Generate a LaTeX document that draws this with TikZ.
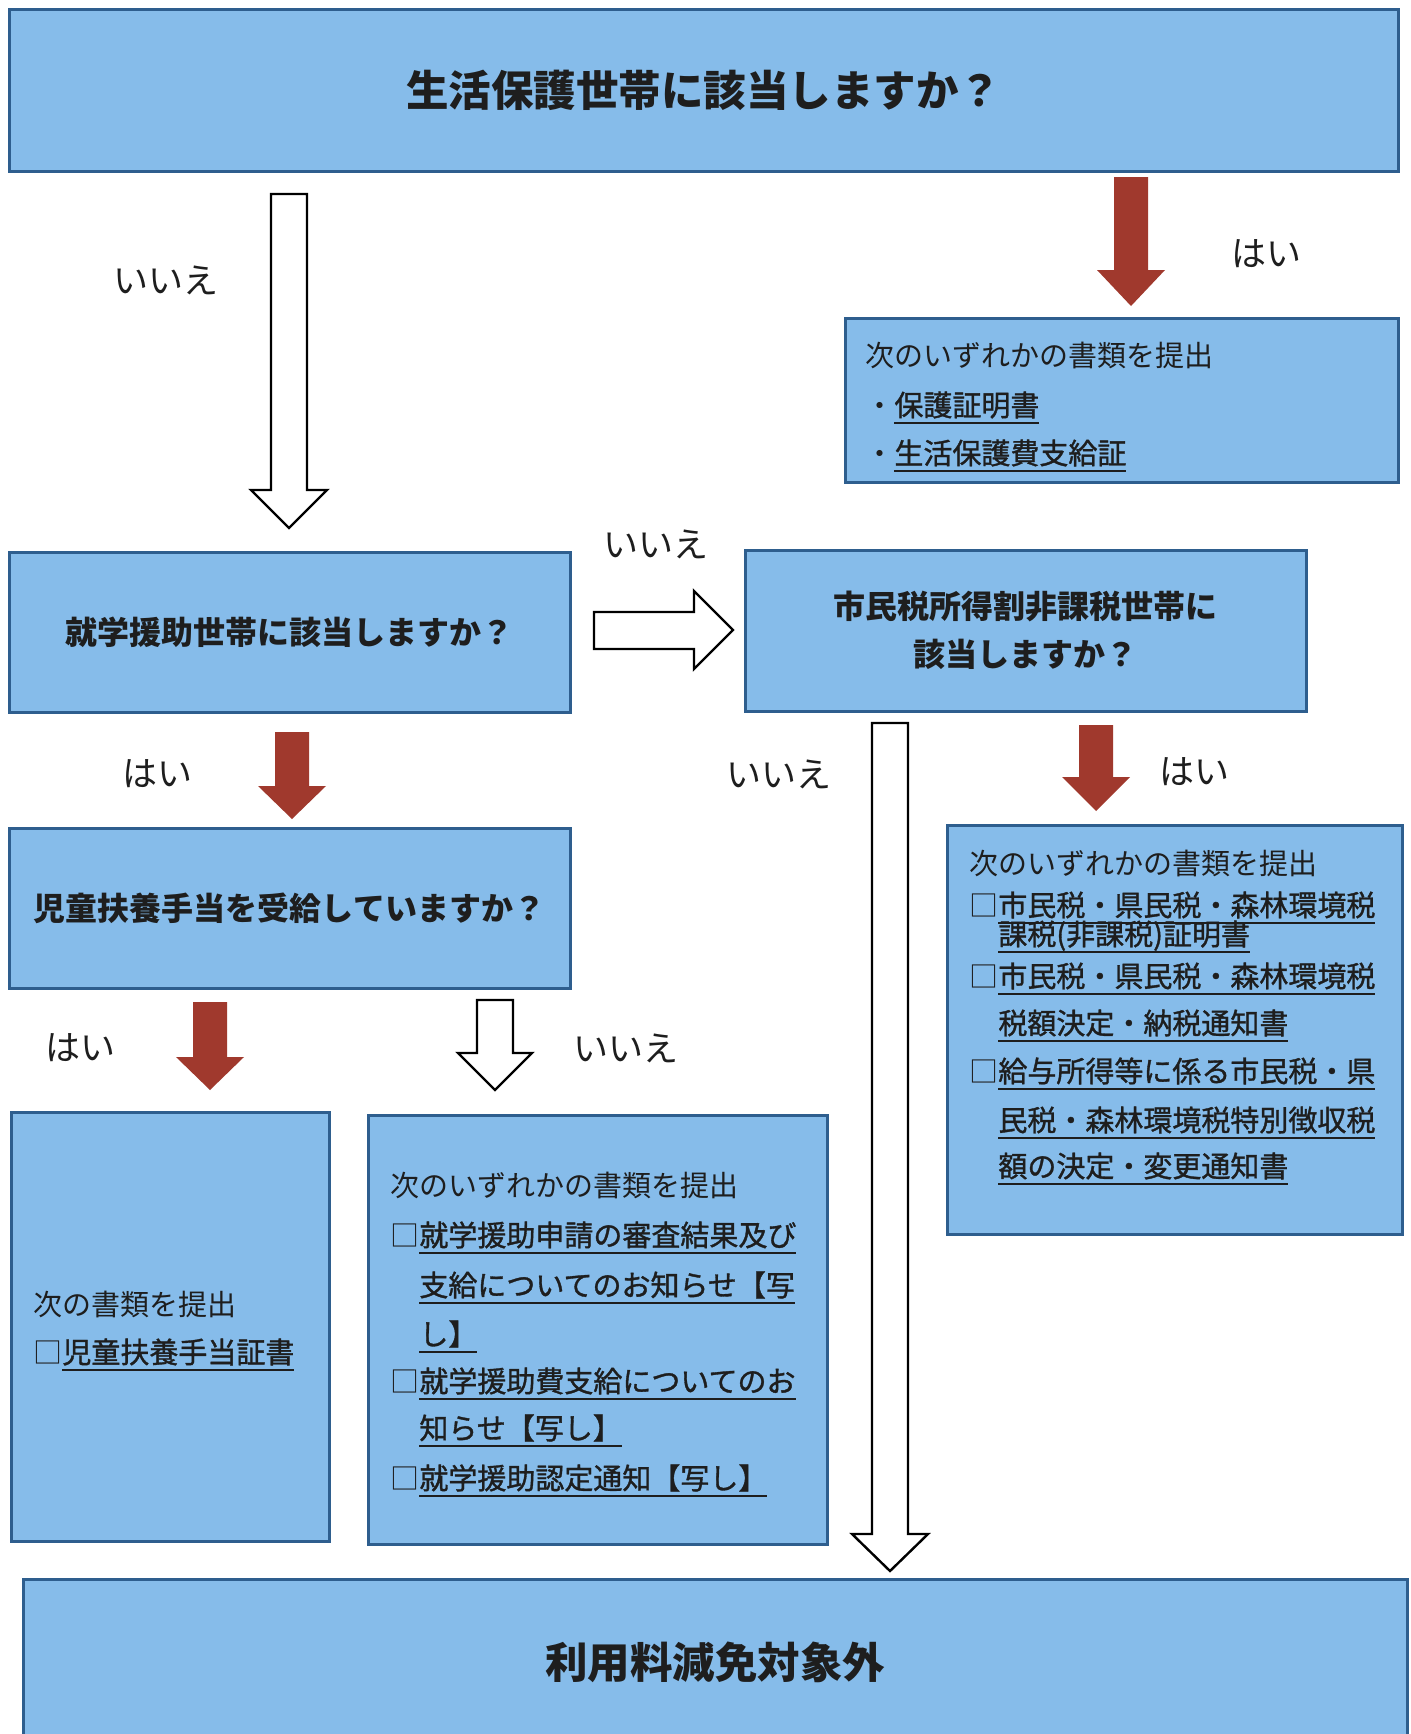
\documentclass[tikz,border=0pt]{standalone}
\usepackage{fontspec}
\setmainfont{Noto Sans CJK JP}
\newfontfamily\myulfont{Noto Sans CJK JP}[FakeBold=1.2]
\newsavebox\myulbox
\newcommand\myul[1]{\sbox\myulbox{\myulfont #1}\rlap{\usebox\myulbox}\rule[-3.9pt]{\wd\myulbox}{1pt}}
\definecolor{boxfill}{HTML}{86BCEA}
\definecolor{boxline}{HTML}{2E5E8E}
\definecolor{arrowred}{HTML}{A0392D}
\definecolor{txt}{HTML}{1E1E1E}
\newcommand\myDArrow[7]{% style, cx, shaft half, top, head start, tip, head half
  \path[#1] ({#2-#3},#4) -- ({#2+#3},#4) -- ({#2+#3},#5) -- ({#2+#7},#5) -- (#2,#6) -- ({#2-#7},#5) -- ({#2-#3},#5) -- cycle;}
\begin{document}
\begin{tikzpicture}[x=0.5pt,y=-0.5pt,
  box/.style={draw=boxline, line width=1.5pt, fill=boxfill, inner sep=0pt, outer sep=0pt, text=txt, align=center},
  redarrow/.style={fill=arrowred, draw=none},
  whitearrow/.style={fill=white, draw=black, line width=1.2pt, line join=miter},
  lbl/.style={font=\fontsize{17.5}{20}\selectfont, text=txt, inner sep=0pt},
  bodytxt/.style={font=\fontsize{14.5}{17}\selectfont, text=txt, inner sep=0pt, anchor=base west},
  bighead/.style={font=\fontsize{21.25}{26}\selectfont\bfseries},
  midhead/.style={font=\fontsize{16}{24}\selectfont\bfseries}]
\useasboundingbox (0,0) rectangle (1410,1734);
\clip (0,0) rectangle (1410,1734);
\fill[white] (0,0) rectangle (1410,1734);

% boxes
\node[box, bighead, minimum width=694.5pt, minimum height=80.5pt] (q1) at (703.5,90.5) {生活保護世帯に該当しますか？};
\node[box, minimum width=276.5pt, minimum height=82pt] (d1) at (1121.5,400) {};
\node[box, midhead, minimum width=280.5pt, minimum height=80pt] (q2) at (289.5,632) {就学援助世帯に該当しますか？};
\node[box, midhead, minimum width=280.5pt, minimum height=80.5pt] (q3) at (1025.5,630.5) {市民税所得割非課税世帯に\\該当しますか？};
\node[box, midhead, minimum width=280.5pt, minimum height=80pt] (q4) at (289.5,908) {児童扶養手当を受給していますか？};
\node[box, minimum width=227.5pt, minimum height=204.5pt] (d2) at (1174.5,1029.5) {};
\node[box, minimum width=159pt, minimum height=214.5pt] (d3) at (170,1326.5) {};
\node[box, minimum width=229.5pt, minimum height=214.5pt] (d4) at (597.5,1329.5) {};
\node[box, bighead, minimum width=692pt, minimum height=83pt] (res) at (715,1662) {利用料減免対象外};

% arrows
\myDArrow{redarrow}{1131}{17}{177}{270}{306}{34}
\myDArrow{redarrow}{1096}{17}{725}{777}{811}{34}
\myDArrow{redarrow}{292}{17}{732}{786}{819}{34}
\myDArrow{redarrow}{210}{17}{1002}{1057}{1090}{34}
\myDArrow{whitearrow}{289}{18}{194}{490}{528}{38}
\myDArrow{whitearrow}{890}{18}{723}{1534}{1571}{38}
\myDArrow{whitearrow}{495}{18}{1000}{1053}{1090}{37}
\path[whitearrow] (594,612) -- (694,612) -- (694,591) -- (733,630) -- (694,669) -- (694,649) -- (594,649) -- cycle;

% labels
\node[lbl] (l1) at (166,280) {いいえ};
\node[lbl] (l2) at (1266,254) {はい};
\node[lbl] (l3) at (656,544) {いいえ};
\node[lbl] (l4) at (779,774) {いいえ};
\node[lbl] (l5) at (1194,772) {はい};
\node[lbl] (l6) at (157,774) {はい};
\node[lbl] (l7) at (80,1048) {はい};
\node[lbl] (l8) at (626,1048) {いいえ};

% texts in d1
\node[bodytxt] (d1a) at (865,366) {次のいずれかの書類を提出};
\node[bodytxt] (d1b) at (865,416) {・\myul{保護証明書}};
\node[bodytxt] (d1c) at (865,464) {・\myul{生活保護費支給証}};

% texts in d2
\node[bodytxt] (d2a) at (969,874) {次のいずれかの書類を提出};
\node[bodytxt] (d2b) at (969,916) {□\myul{市民税・県民税・森林環境税}};
\node[bodytxt] (d2c) at (998,945) {\myul{課税(非課税)証明書}};
\node[bodytxt] (d2d) at (969,987) {□\myul{市民税・県民税・森林環境税}};
\node[bodytxt] (d2e) at (998,1034) {\myul{税額決定・納税通知書}};
\node[bodytxt] (d2f) at (969,1082) {□\myul{給与所得等に係る市民税・県}};
\node[bodytxt] (d2g) at (998,1131) {\myul{民税・森林環境税特別徴収税}};
\node[bodytxt] (d2h) at (998,1177) {\myul{額の決定・変更通知書}};

% texts in d3
\node[bodytxt] (d3a) at (33,1315) {次の書類を提出};
\node[bodytxt] (d3b) at (33,1363) {□\myul{児童扶養手当証書}};

% texts in d4
\node[bodytxt] (d4a) at (390,1196) {次のいずれかの書類を提出};
\node[bodytxt] (d4b) at (390,1246) {□\myul{就学援助申請の審査結果及び}};
\node[bodytxt] (d4c) at (419,1296) {\myul{支給についてのお知らせ【写}};
\node[bodytxt] (d4d) at (419,1345) {\myul{し】}};
\node[bodytxt] (d4e) at (390,1392) {□\myul{就学援助費支給についてのお}};
\node[bodytxt] (d4f) at (419,1439) {\myul{知らせ【写し】}};
\node[bodytxt] (d4g) at (390,1489) {□\myul{就学援助認定通知【写し】}};
\end{tikzpicture}
\end{document}
